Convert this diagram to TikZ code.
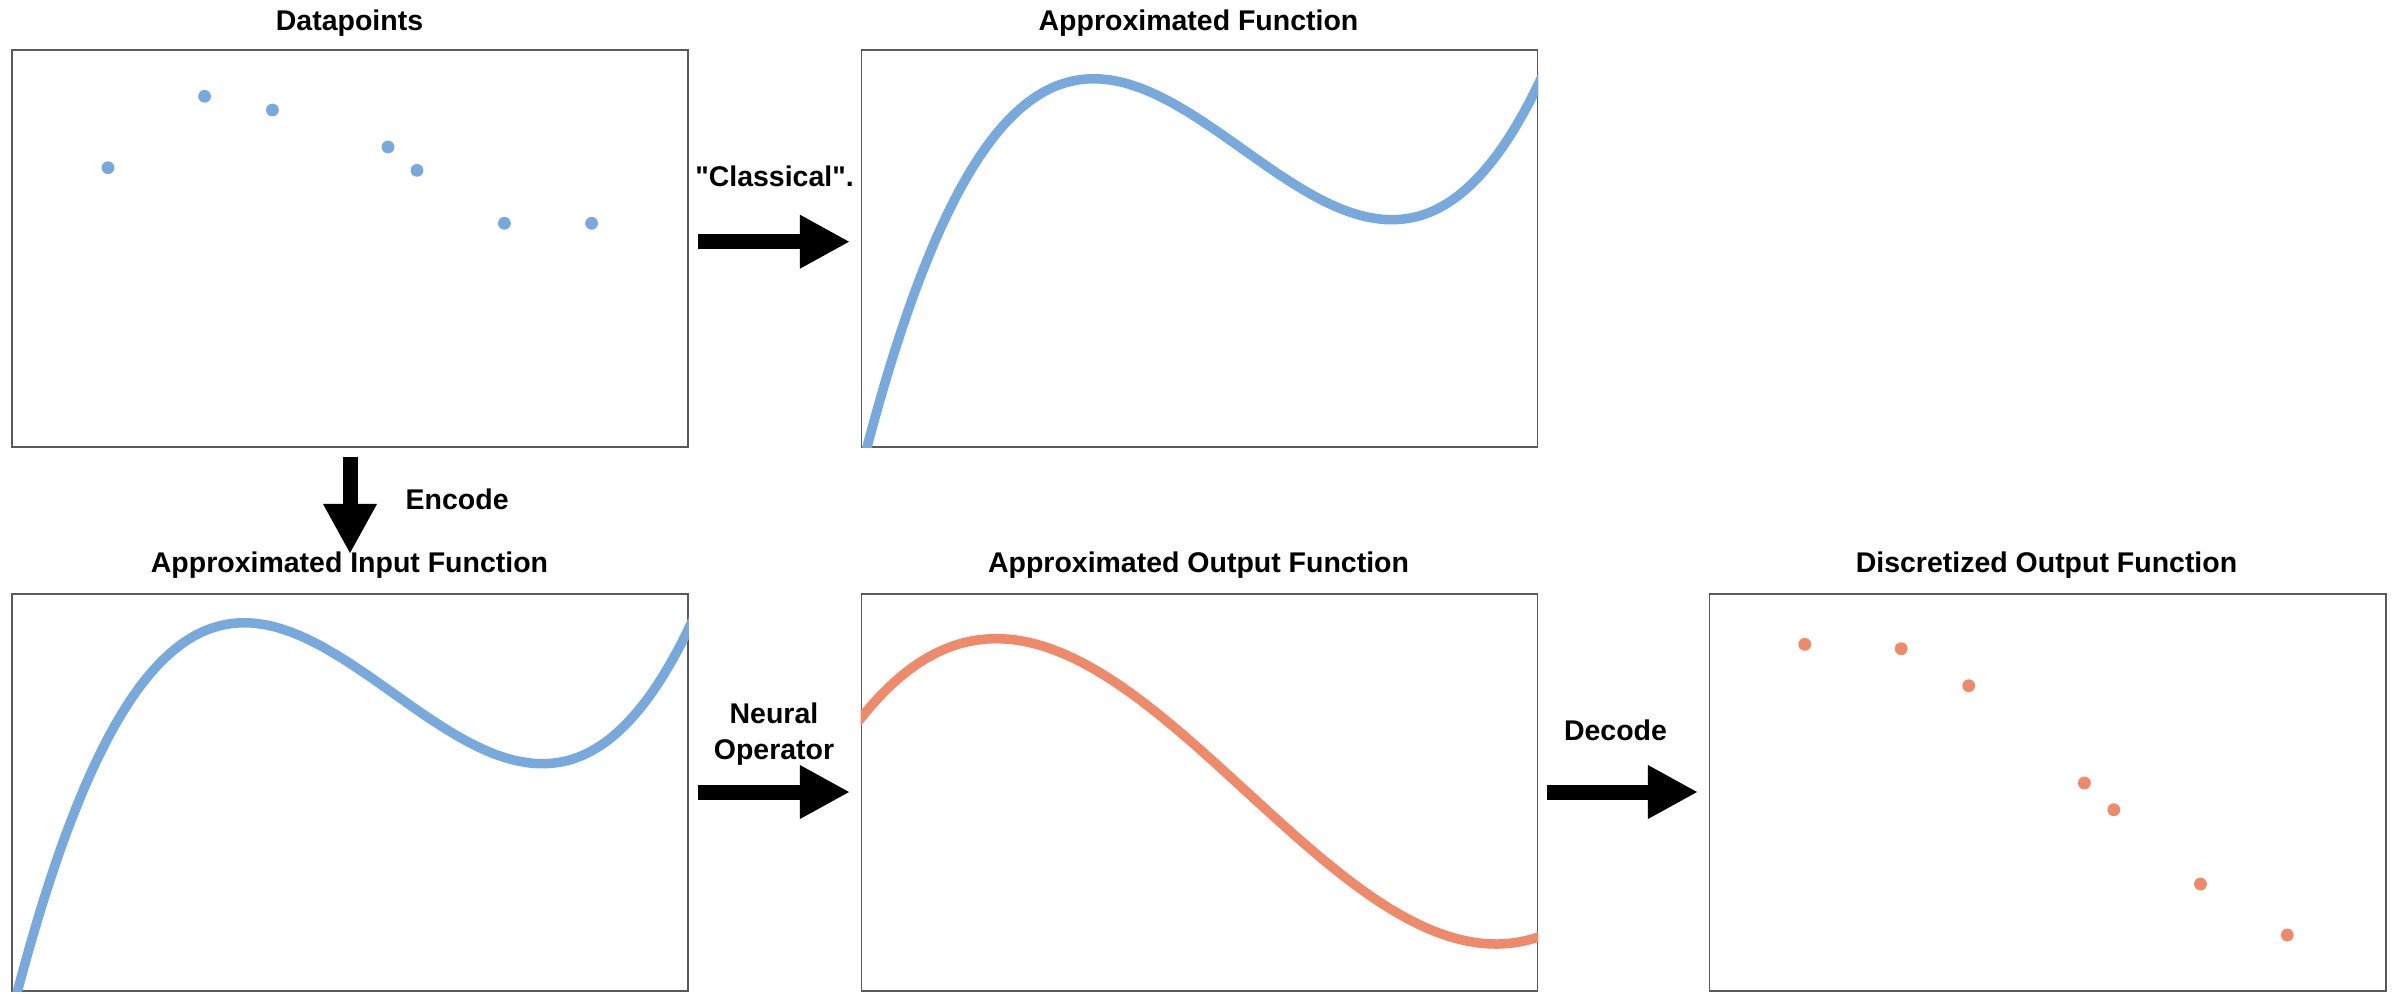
\documentclass[tikz,border=0pt]{standalone}
\usepackage{fontspec}
\setmainfont{Liberation Sans}
\usetikzlibrary{arrows.meta}
\definecolor{fblue}{RGB}{120,169,220}
\definecolor{forange}{RGB}{238,137,105}
\definecolor{frame}{RGB}{90,90,90}
\begin{document}
\begin{tikzpicture}[x=0.01cm,y=-0.01cm,
  panel/.style={draw=frame, line width=0.45pt, minimum width=6.76cm, minimum height=3.97cm, inner sep=0pt, anchor=north west},
  ttl/.style={font=\fontsize{8.1}{9.5}\selectfont\bfseries, anchor=base, inner sep=0pt},
  lbl/.style={font=\fontsize{8.1}{10}\selectfont\bfseries, anchor=base, inner sep=0pt},
  bigarrow/.style={line width=0.15cm, -{Triangle[length=0.5cm,width=0.5cm]}},
  fcurve/.style={line width=0.095cm, line join=round},
  datadot/.style={circle, fill=#1, inner sep=0pt, minimum size=0.128cm}]
\useasboundingbox (0,0) rectangle (2400,993);

% panels
\node[panel] (pData) at (11,49) {};
\node[panel] (pApprox) at (860.5,49) {};
\node[panel] (pIn) at (11,593) {};
\node[panel] (pOut) at (860.5,593) {};
\node[panel] (pDisc) at (1708.5,593) {};

% titles
\node[ttl] (tData) at (349.5,30) {Datapoints};
\node[ttl] (tApprox) at (1198.5,30) {Approximated Function};
\node[ttl] (tIn) at (349.5,572) {Approximated Input Function};
\node[ttl] (tOut) at (1198.5,572) {Approximated Output Function};
\node[ttl] (tDisc) at (2046.5,572) {Discretized Output Function};

% curves
\begin{scope}
  \clip (pApprox.north west) rectangle (pApprox.south east);
  \draw[fcurve, fblue] plot[domain=0:1.01, samples=150, smooth]
    ({860.5+676*\x}, {49+397*(1-(8.277*(\x*\x*\x-1.6965*\x*\x+0.8135*\x)-0.0665))});
\end{scope}
\begin{scope}
  \clip (pIn.north west) rectangle (pIn.south east);
  \draw[fcurve, fblue] plot[domain=0:1.01, samples=150, smooth]
    ({11+676*\x}, {593+397*(1-(8.277*(\x*\x*\x-1.6965*\x*\x+0.8135*\x)-0.0665))});
\end{scope}
\begin{scope}
  \clip (pOut.north west) rectangle (pOut.south east);
  \draw[fcurve, forange] plot[domain=-0.01:1.01, samples=150, smooth]
    ({860.5+676*\x}, {593+397*(1-(3.811*(\x*\x*\x-1.7115*\x*\x+0.5668*\x)+0.6834))});
\end{scope}

% data points
\foreach \px/\py [count=\i] in {108/167.7,204.6/96.3,272.4/110,388/147,417/170.3,504.4/223.3,591.6/223.3}
  \node[datadot=fblue] (dIn\i) at (\px,\py) {};
\foreach \px/\py [count=\i] in {1804.8/644.3,1901.2/648.7,1968.7/685.7,2084.4/783,2113.8/809.7,2200.5/884,2287.3/935}
  \node[datadot=forange] (dOut\i) at (\px,\py) {};

% arrows
\coordinate (aCs) at (698,241.7);
\coordinate (aCe) at (850,241.7);
\draw[bigarrow] (aCs) -- (aCe);
\node[lbl] (lClassical) at (774.5,186) {\textquotedbl Classical\textquotedbl.};

\coordinate (aEs) at (350,456.7);
\coordinate (aEe) at (350,554);
\draw[bigarrow] (aEs) -- (aEe);
\node[lbl, anchor=base west] (lEncode) at (405,509) {Encode};

\coordinate (aNs) at (698,792);
\coordinate (aNe) at (850,792);
\draw[bigarrow] (aNs) -- (aNe);
\node[lbl] (lNeural) at (774,723) {Neural};
\node[lbl] (lOperator) at (774,759) {Operator};

\coordinate (aDs) at (1547,792);
\coordinate (aDe) at (1698,792);
\draw[bigarrow] (aDs) -- (aDe);
\node[lbl] (lDecode) at (1615.5,740.7) {Decode};
\end{tikzpicture}
\end{document}
